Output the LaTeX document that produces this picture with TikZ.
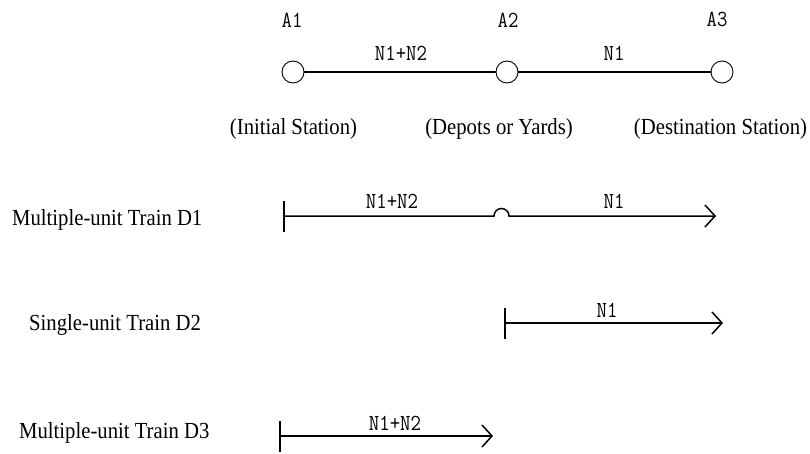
\documentclass[tikz,border=0pt]{standalone}
\usepackage{fontspec}
\setmainfont[FakeStretch=0.9]{Liberation Serif}
\newfontfamily\labelmono[FakeStretch=0.88]{Latin Modern Mono}
\usetikzlibrary{arrows.meta}
\begin{document}
\begin{tikzpicture}[x=1pt,y=-1pt,
  station/.style={circle,draw,line width=0.9pt,minimum size=22pt,inner sep=0pt,fill=white},
  track/.style={line width=1.8pt},
  monolabel/.style={anchor=base,inner sep=0pt,font=\labelmono\fontsize{23}{27}\selectfont},
  serif/.style={inner sep=0pt,font=\fontsize{23}{27}\selectfont},
  trainrun/.style={line width=1.5pt,{Bar[width=31pt,line width=1.5pt]}-{Straight Barb[length=10pt,width=22pt,line width=1.5pt]}}
]
\useasboundingbox (0,0) rectangle (810,453);

% stations and the track between them
\node[station] (A1) at (293,72) {};
\node[station] (A2) at (507,72) {};
\node[station] (A3) at (722,72) {};
\draw[track] (A1) -- (A2);
\draw[track] (A2) -- (A3);

\node[monolabel] (lA1) at (292,27) {A1};
\node[monolabel] (lA2) at (508,27) {A2};
\node[monolabel] (lA3) at (717,26) {A3};
\node[monolabel] (s12) at (401,60) {N1+N2};
\node[monolabel] (s23) at (614,60) {N1};

\node[serif,anchor=base] (nA1) at (293.5,134) {(Initial Station)};
\node[serif,anchor=base] (nA2) at (499,134) {(Depots or Yards)};
\node[serif,anchor=base] (nA3) at (720.5,134) {(Destination Station)};

% train D1: through service with a crossing hop at A2
\node[serif,anchor=base west] (tD1) at (12,225) {Multiple-unit Train D1};
\coordinate (d1s) at (283,216);
\coordinate (d1e) at (716,216);
\draw[trainrun] (d1s) -- (494,216) arc[start angle=180,end angle=360,radius=7.5] -- (d1e);
\node[monolabel] (d1a) at (392,208) {N1+N2};
\node[monolabel] (d1b) at (614,208) {N1};

% train D2
\node[serif,anchor=base west] (tD2) at (29,330) {Single-unit Train D2};
\coordinate (d2s) at (504,323);
\coordinate (d2e) at (723,323);
\draw[trainrun] (d2s) -- (d2e);
\node[monolabel] (d2a) at (607,317) {N1};

% train D3
\node[serif,anchor=base west] (tD3) at (19,438) {Multiple-unit Train D3};
\coordinate (d3s) at (279,436);
\coordinate (d3e) at (493,436);
\draw[trainrun] (d3s) -- (d3e);
\node[monolabel] (d3a) at (395,430) {N1+N2};
\end{tikzpicture}
\end{document}
